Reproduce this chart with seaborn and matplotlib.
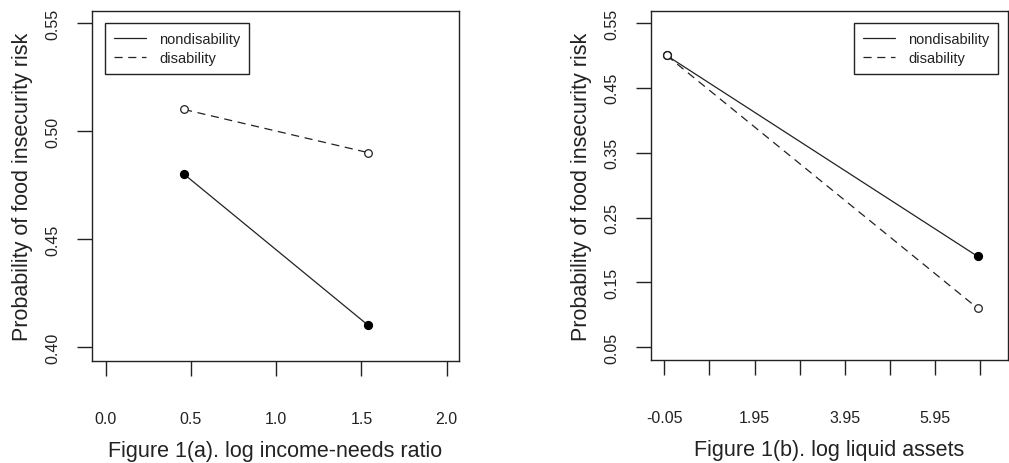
import matplotlib
matplotlib.use("Agg")
import matplotlib.pyplot as plt
from matplotlib.lines import Line2D
import seaborn as sns
import pandas as pd

# ---- data ----
groups = ["nondisability", "disability"]
income_x = [0.46, 1.54]
income_nondis = [0.48, 0.41]
income_dis = [0.51, 0.49]
income_xticks = [0.0, 0.5, 1.0, 1.5, 2.0]
income_xlabels = ["0.0", "0.5", "1.0", "1.5", "2.0"]
income_yticks = [0.40, 0.45, 0.50, 0.55]
income_ylabels = ["0.40", "0.45", "0.50", "0.55"]

assets_x = [0.0, 6.9]
assets_nondis = [0.50, 0.19]
assets_dis = [0.50, 0.11]
assets_xticks = [-0.05, 0.95, 1.95, 2.95, 3.95, 4.95, 5.95, 6.95]
assets_xlabels = ["-0.05", "", "1.95", "", "3.95", "", "5.95", ""]
assets_yticks = [0.05, 0.15, 0.25, 0.35, 0.45, 0.55]
assets_ylabels = ["0.05", "0.15", "0.25", "0.35", "0.45", "0.55"]

ylabel = "Probability of food insecurity risk"
xlabel_a = "Figure 1(a). log income-needs ratio"
xlabel_b = "Figure 1(b). log liquid assets"

sns.set_style("white")
plt.rcParams["font.family"] = ["Liberation Sans", "DejaVu Sans"]

INK = "#222222"
LW = 0.9
DASH = (0, (6.5, 4.5))

fig = plt.figure(figsize=(10.09, 4.64), dpi=100)
W, H = 1009, 464
axA = fig.add_axes([92 / W, 1 - 362 / H, (459 - 92) / W, (362 - 12) / H])
axB = fig.add_axes([651 / W, 1 - 361 / H, (1008 - 651) / W, (361 - 12) / H])


def panel(ax, x, nondis, dis, xt, xl, yt, yl, xlim, ylim, xlabel, legend_loc, anchor):
    df = pd.DataFrame({
        "x": list(x) + list(x),
        "y": list(nondis) + list(dis),
        "group": [groups[0]] * len(x) + [groups[1]] * len(x),
    })
    sns.lineplot(data=df, x="x", y="y", hue="group", style="group",
                 palette={groups[0]: INK, groups[1]: INK},
                 dashes={groups[0]: "", groups[1]: DASH[1]},
                 linewidth=LW, ax=ax, legend=False, zorder=2)
    sns.scatterplot(data=df[df.group == groups[0]], x="x", y="y", color="black",
                    edgecolor="black", s=34, linewidth=0.8, ax=ax, legend=False, zorder=3)
    sns.scatterplot(data=df[df.group == groups[1]], x="x", y="y", color="white",
                    edgecolor=INK, s=30, linewidth=0.9, ax=ax, legend=False, zorder=3)
    ax.set_xlim(*xlim)
    ax.set_ylim(*ylim)
    ax.set_xticks(xt)
    ax.set_xticklabels(xl)
    ax.set_yticks(yt)
    ax.set_yticklabels(yl, rotation=90, va="center")
    ax.tick_params(axis="both", direction="out", length=11, width=1.0, color=INK,
                   labelsize=11.5, labelcolor=INK, bottom=True, left=True,
                   top=False, right=False)
    ax.tick_params(axis="x", pad=25)
    ax.tick_params(axis="y", pad=12)
    for sp in ax.spines.values():
        sp.set_visible(True)
        sp.set_color(INK)
        sp.set_linewidth(1.0)
    ax.set_xlabel(xlabel, fontsize=15.5, color=INK, labelpad=10)
    ax.set_ylabel(ylabel, fontsize=15.5, color=INK, labelpad=9)
    ax.grid(False)
    handles = [Line2D([0], [0], color=INK, lw=LW),
               Line2D([0], [0], color=INK, lw=LW, linestyle=DASH)]
    leg = ax.legend(handles, groups, loc=legend_loc, bbox_to_anchor=anchor,
                    borderaxespad=0, fontsize=10.5, frameon=True, fancybox=False,
                    edgecolor=INK, framealpha=1, handlelength=2.2, handletextpad=0.9,
                    borderpad=0.6, labelspacing=0.35)
    leg.get_frame().set_linewidth(1.0)
    for t in leg.get_texts():
        t.set_color(INK)


panel(axA, income_x, income_nondis, income_dis, income_xticks, income_xlabels,
      income_yticks, income_ylabels, (-0.080, 2.072), (0.3935, 0.5556), xlabel_a,
      "upper left", (13 / 367, 1 - 12 / 350))
panel(axB, assets_x, assets_nondis, assets_dis, assets_xticks, assets_xlabels,
      assets_yticks, assets_ylabels, (-0.345, 7.57), (0.0304, 0.5685), xlabel_b,
      "upper right", (1 - 10 / 357, 1 - 12 / 349))

fig.savefig("out.png", dpi=100)
